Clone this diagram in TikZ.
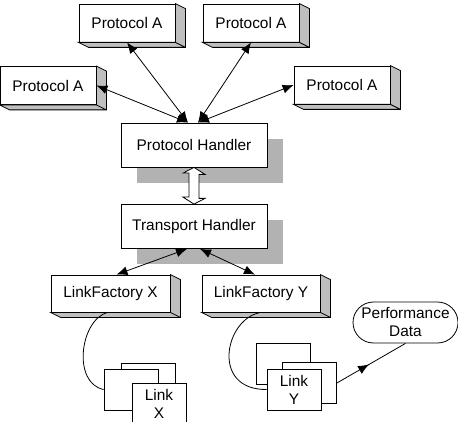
\documentclass[tikz,border=0pt]{standalone}
\usepackage{fontspec}
\setmainfont{Liberation Sans}
\usetikzlibrary{arrows.meta,shapes.misc,shadows,decorations.markings}

\begin{document}
\begin{tikzpicture}[x=1pt,y=-1pt,line width=0.8pt,
		font=\fontsize{15.4}{18}\selectfont,
		>={Latex[length=11pt,width=9pt]},
		protobox/.style={draw,fill=white,inner sep=0pt,minimum width=96pt,minimum height=38pt},
		handler/.style={draw,fill=white,inner sep=0pt,minimum width=146pt,minimum height=44pt,
			general shadow={fill=black!30,shadow xshift=16pt,shadow yshift=-16pt}},
		linkbox/.style={draw,fill=white,inner sep=0pt,minimum width=54pt,minimum height=41pt,align=center},
		midarrow/.style={postaction={decorate},decoration={markings,mark=at position 0.47 with {\arrow{>}}}}]
		\useasboundingbox (0,0) rectangle (458,422);
		\node[protobox] (pa1) at (127,23) {Protocol A};
		\node[protobox] (pa2) at (251,23) {Protocol A};
		\node[protobox] (pa3) at (48,85.5) {Protocol A};
		\node[protobox] (pa4) at (342,85) {Protocol A};
		\node[handler] (ph) at (194,145) {Protocol Handler};
		\node[handler] (th) at (194,226.5) {Transport Handler};
		\node[protobox,minimum width=119pt,minimum height=37pt] (lfx) at (110.5,293.5) {LinkFactory X};
		\node[protobox,minimum width=118pt,minimum height=37pt] (lfy) at (261,293.5) {LinkFactory Y};
		\foreach \n in {pa1,pa2,pa3,pa4,lfx,lfy}
			\filldraw[fill=black!25] (\n.north east) -- ++(10,5) -- ([shift={(10,5)}]\n.south east)
				-- ([shift={(10,5)}]\n.south west) -- (\n.south west) -- (\n.south east) -- cycle
				(\n.south east) -- ++(10,5);
		\draw[fill=white] (ph.south) -- ++(11,7) -- ++(-6,0) -- ++(0,24) -- ++(6,0) -- (th.north)
			-- ++(-11,-7) -- ++(6,0) -- ++(0,-24) -- ++(-6,0) -- cycle;
		\path ([xshift=-6pt]ph.north) edge[<->] (pa1.south) edge[<->] (pa3.east)
			([xshift=4pt]ph.north) edge[<->] (pa2.south) edge[<->] (pa4.west)
			([xshift=-7pt]th.south) edge[<->] ([xshift=6pt]lfx.north)
			([xshift=6pt]th.south) edge[<->] ([xshift=-6pt]lfy.north);
		\node[linkbox] (lxb) at (148,383.5) {};
		\node[linkbox] (lxm) at (131,389.5) {};
		\node[linkbox] (lx) at (159,403.5) {Link\\X};
		\node[linkbox] (lyb) at (283.5,364) {};
		\node[linkbox] (lym) at (309.5,383) {};
		\node[linkbox] (ly) at (294,389.5) {Link\\Y};
		\node[draw,rounded rectangle,inner sep=0pt,minimum width=105pt,minimum height=41pt,align=center] (perf) at (405.5,322.5) {Performance\\Data};
		\draw ([xshift=-3pt]lfx.south) .. controls (80,320) and (72,383) .. (lxm.west);
		\draw (lfy.south) .. controls (225,318) and (210,390) .. (ly.west);
		\draw[midarrow] (lym.east) -- (perf.south);
	\end{tikzpicture}
\end{document}
